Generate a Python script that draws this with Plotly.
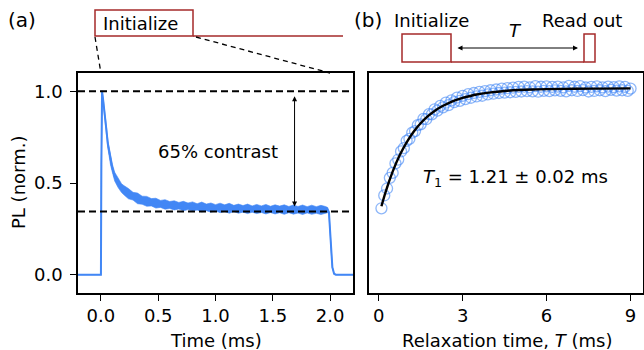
import plotly.graph_objects as go

# ---------------- data ----------------
pl_time = [-0.2, 0.0, 0.004, 0.01, 0.02, 0.032, 0.046, 0.061, 0.084, 0.10, 0.12, 0.15, 0.18,
           0.20, 0.24, 0.28, 0.32, 0.36, 0.40, 0.44, 0.48, 0.52, 0.56, 0.60, 0.64, 0.68, 0.72,
           0.76, 0.80, 0.84, 0.88, 0.92, 0.96, 1.00, 1.04, 1.08, 1.12, 1.16, 1.20, 1.24, 1.28,
           1.32, 1.36, 1.40, 1.44, 1.48, 1.52, 1.56, 1.60, 1.64, 1.68, 1.72, 1.76, 1.80, 1.84,
           1.88, 1.92, 1.96, 1.98, 1.99, 2.0, 2.01, 2.02, 2.035, 2.05, 2.2]
pl_value = [0.0, 0.0, 0.6, 1.0, 0.95, 0.89, 0.80, 0.71, 0.62, 0.58, 0.535, 0.50, 0.472,
            0.461, 0.442, 0.428, 0.416, 0.406, 0.400, 0.395, 0.390, 0.386, 0.383, 0.380, 0.378,
            0.376, 0.374, 0.373, 0.372, 0.370, 0.369, 0.367, 0.366, 0.365, 0.364, 0.363, 0.362,
            0.361, 0.360, 0.359, 0.359, 0.358, 0.358, 0.357, 0.357, 0.356, 0.356, 0.356, 0.355,
            0.355, 0.355, 0.354, 0.354, 0.354, 0.354, 0.353, 0.353, 0.353, 0.352, 0.34, 0.25,
            0.12, 0.04, 0.005, 0.0, 0.0]
pl_spread = [0.0, 0.0, 0.0, 0.005, 0.01, 0.015, 0.018, 0.02, 0.022, 0.022, 0.024, 0.025, 0.024,
             0.025, 0.028, 0.021, 0.029, 0.022, 0.027, 0.020, 0.027, 0.019, 0.026, 0.019, 0.025,
             0.018, 0.026, 0.018, 0.025, 0.017, 0.027, 0.018, 0.025, 0.017, 0.026, 0.018, 0.027,
             0.017, 0.025, 0.018, 0.026, 0.017, 0.025, 0.018, 0.026, 0.017, 0.025, 0.018, 0.026,
             0.017, 0.025, 0.018, 0.026, 0.017, 0.025, 0.018, 0.025, 0.019, 0.014, 0.006, 0.0,
             0.0, 0.0, 0.0, 0.0, 0.0]

t1_time = [0.1, 0.2, 0.3, 0.4, 0.5, 0.6, 0.7, 0.8, 0.9, 1.0,
           1.1, 1.2, 1.3, 1.4, 1.5, 1.6, 1.7, 1.8, 1.9, 2.0,
           2.1, 2.2, 2.3, 2.4, 2.5, 2.6, 2.7, 2.8, 2.9, 3.0,
           3.1, 3.2, 3.3, 3.4, 3.5, 3.6, 3.7, 3.8, 3.9, 4.0,
           4.1, 4.2, 4.3, 4.4, 4.5, 4.6, 4.7, 4.8, 4.9, 5.0,
           5.1, 5.2, 5.3, 5.4, 5.5, 5.6, 5.7, 5.8, 5.9, 6.0,
           6.1, 6.2, 6.3, 6.4, 6.5, 6.6, 6.7, 6.8, 6.9, 7.0,
           7.1, 7.2, 7.3, 7.4, 7.5, 7.6, 7.7, 7.8, 7.9, 8.0,
           8.1, 8.2, 8.3, 8.4, 8.5, 8.6, 8.7, 8.8, 8.9, 9.0]
t1_signal = [0.362, 0.432, 0.470, 0.528, 0.555, 0.607, 0.628, 0.672, 0.690, 0.730,
             0.741, 0.775, 0.783, 0.816, 0.820, 0.850, 0.848, 0.876, 0.874, 0.902,
             0.895, 0.921, 0.913, 0.938, 0.925, 0.951, 0.941, 0.966, 0.948, 0.975,
             0.958, 0.985, 0.965, 0.991, 0.972, 0.997, 0.976, 1.001, 0.983, 1.006,
             0.987, 1.010, 0.991, 1.015, 0.993, 1.018, 0.995, 1.020, 0.997, 1.024,
             0.999, 1.026, 1.001, 1.022, 1.000, 1.028, 0.998, 1.025, 1.003, 1.027,
             1.001, 1.024, 1.005, 1.026, 1.003, 1.022, 1.000, 1.030, 1.006, 1.025,
             1.002, 1.028, 1.007, 1.021, 0.999, 1.024, 1.002, 1.027, 1.006, 1.022,
             1.001, 1.026, 1.008, 1.023, 1.004, 1.027, 1.006, 1.024, 1.003, 1.015]

fit_time = [0.1, 0.25, 0.5, 0.75, 1.0, 1.25, 1.5, 1.75, 2.0, 2.25, 2.5, 2.75, 3.0,
            3.5, 4.0, 4.5, 5.0, 5.5, 6.0, 7.0, 8.0, 9.0]
fit_value = [0.373, 0.452, 0.562, 0.651, 0.722, 0.780, 0.826, 0.863, 0.893, 0.917, 0.936,
             0.952, 0.964, 0.983, 0.994, 1.002, 1.007, 1.010, 1.012, 1.014, 1.015, 1.016]

contrast_low = 0.345
contrast_high = 1.0

x1_ticks = [0.0, 0.5, 1.0, 1.5, 2.0]
x1_labels = ["0.0", "0.5", "1.0", "1.5", "2.0"]
y_ticks = [0.0, 0.5, 1.0]
y_labels = ["0.0", "0.5", "1.0"]
x2_ticks = [0, 3, 6, 9]
x2_labels = ["0", "3", "6", "9"]

# ---------------- layout helpers ----------------
W, H = 644, 350
X1_RANGE = [-0.2, 2.2]
X2_RANGE = [-0.345, 9.445]
Y_RANGE = [-0.1, 1.1]
X1_DOM = [78 / W, 353 / W]
X2_DOM = [369 / W, 643 / W]
Y_DOM = [1 - 293 / H, 1 - 73 / H]

BLUE = "#4287f5"
BROWN = "#a52a2a"
FONT = "DejaVu Sans"


def px(p):
    return p / W


def py(p):
    return 1 - p / H


def x1_paper(v):
    return X1_DOM[0] + (v - X1_RANGE[0]) / (X1_RANGE[1] - X1_RANGE[0]) * (X1_DOM[1] - X1_DOM[0])


fig = go.Figure()

# noisy PL band
upper = [v + s for v, s in zip(pl_value, pl_spread)]
lower = [v - s for v, s in zip(pl_value, pl_spread)]
fig.add_trace(go.Scatter(x=pl_time + pl_time[::-1], y=upper + lower[::-1], fill="toself",
                         fillcolor=BLUE, line=dict(color=BLUE, width=0.6), mode="lines",
                         xaxis="x", yaxis="y", hoverinfo="skip", showlegend=False))
fig.add_trace(go.Scatter(x=pl_time, y=pl_value, mode="lines", line=dict(color=BLUE, width=2),
                         xaxis="x", yaxis="y", showlegend=False))

# T1 data and fit
fig.add_trace(go.Scatter(x=t1_time, y=t1_signal, mode="markers",
                         marker=dict(symbol="circle-open", size=11, color="rgba(66,135,245,0.6)",
                                     line=dict(width=1.3)),
                         xaxis="x2", yaxis="y2", showlegend=False))
fig.add_trace(go.Scatter(x=fit_time, y=fit_value, mode="lines", line=dict(color="black", width=2.4,
                         shape="spline"), xaxis="x2", yaxis="y2", showlegend=False))

axis_common = dict(showline=True, linecolor="black", linewidth=1.5, mirror=True, showgrid=False,
                   zeroline=False, ticks="outside", ticklen=6, tickwidth=1.3, tickcolor="black",
                   tickfont=dict(family=FONT, size=18, color="black"))

shapes = []
# horizontal dashed contrast lines
for lvl in [contrast_high, contrast_low]:
    shapes.append(dict(type="line", xref="x", yref="y", x0=X1_RANGE[0], x1=X1_RANGE[1], y0=lvl, y1=lvl,
                       line=dict(color="black", width=2, dash="7px,4px")))

# left schematic
shapes.append(dict(type="rect", xref="paper", yref="paper", x0=px(95), x1=px(193), y0=py(36), y1=py(10),
                   line=dict(color=BROWN, width=1.5)))
shapes.append(dict(type="line", xref="paper", yref="paper", x0=px(193), x1=px(343), y0=py(36), y1=py(36),
                   line=dict(color=BROWN, width=1.5)))
shapes.append(dict(type="line", xref="paper", yref="paper", x0=px(95), x1=x1_paper(0.0), y0=py(37), y1=Y_DOM[1],
                   line=dict(color="black", width=1.3, dash="5px,4px")))
shapes.append(dict(type="line", xref="paper", yref="paper", x0=px(196), x1=x1_paper(2.0), y0=py(37), y1=Y_DOM[1],
                   line=dict(color="black", width=1.3, dash="5px,4px")))

# right schematic
shapes.append(dict(type="rect", xref="paper", yref="paper", x0=px(402), x1=px(451), y0=py(62), y1=py(34),
                   line=dict(color=BROWN, width=1.5)))
shapes.append(dict(type="line", xref="paper", yref="paper", x0=px(451), x1=px(584), y0=py(62), y1=py(62),
                   line=dict(color=BROWN, width=1.5)))
shapes.append(dict(type="rect", xref="paper", yref="paper", x0=px(584), x1=px(595), y0=py(62), y1=py(34),
                   line=dict(color=BROWN, width=1.5)))

txt = dict(family=FONT, size=18, color="black")
C = dict(xanchor="center", yanchor="middle", showarrow=False)
annotations = [
    dict(text="(a)", x=px(22), y=py(20), xref="paper", yref="paper",
         font=dict(family=FONT, size=20, color="black"), **C),
    dict(text="(b)", x=px(368), y=py(20), xref="paper", yref="paper",
         font=dict(family=FONT, size=20, color="black"), **C),
    dict(text="Initialize", x=px(140), y=py(23), xref="paper", yref="paper", font=txt, **C),
    dict(text="Initialize", x=px(431), y=py(20), xref="paper", yref="paper", font=txt, **C),
    dict(text="Read out", x=px(582), y=py(20), xref="paper", yref="paper", font=txt, **C),
    dict(text="<i>T</i>", x=px(515), y=py(31), xref="paper", yref="paper", font=txt, **C),
    # double arrow T
    dict(text="", x=px(578), y=py(48), ax=456 - 578, ay=0, xref="paper", yref="paper",
         axref="pixel", ayref="pixel", showarrow=True, arrowside="end+start", arrowhead=2,
         arrowsize=1, arrowwidth=1, arrowcolor="black"),
    # contrast arrow
    dict(text="", x=1.69, y=0.372, ax=1.69, ay=0.982, xref="x", yref="y", axref="x", ayref="y",
         showarrow=True, arrowside="end+start", arrowhead=2, arrowsize=1, arrowwidth=1,
         arrowcolor="black"),
    dict(text="65% contrast", x=1.02, y=0.67, xref="x", yref="y", font=txt, **C),
    dict(text="<i>T</i><sub>1</sub> = 1.21 ± 0.02 ms", x=4.9, y=0.53, xref="x2", yref="y2",
         font=txt, **C),
    # axis titles
    dict(text="Time (ms)", x=x1_paper(1.0), y=py(340), xref="paper", yref="paper", font=txt, **C),
    dict(text="Relaxation time, <i>T</i> (ms)", x=px(507), y=py(340), xref="paper", yref="paper",
         font=txt, **C),
    dict(text="PL (norm.)", x=px(18), y=py(183), xref="paper", yref="paper",
         textangle=-90, font=txt, **C),
]

fig.update_layout(
    width=W, height=H, margin=dict(l=0, r=0, t=0, b=0),
    paper_bgcolor="white", plot_bgcolor="white",
    font=dict(family=FONT, size=18, color="black"),
    xaxis=dict(domain=X1_DOM, range=X1_RANGE, tickvals=x1_ticks, ticktext=x1_labels, anchor="y",
               **axis_common),
    yaxis=dict(domain=Y_DOM, range=Y_RANGE, tickvals=y_ticks, ticktext=y_labels, anchor="x",
               ticklabelstandoff=4, **axis_common),
    xaxis2=dict(domain=X2_DOM, range=X2_RANGE, tickvals=x2_ticks, ticktext=x2_labels, anchor="y2",
                **axis_common),
    yaxis2=dict(domain=Y_DOM, range=Y_RANGE, anchor="x2", matches="y", showline=True, linecolor="black",
                linewidth=1.5, mirror=True, showgrid=False, zeroline=False, ticks="",
                showticklabels=False),
    shapes=shapes, annotations=annotations, showlegend=False,
)

fig.write_html("out.html", config={"displayModeBar": False},
               post_script="document.body.style.margin='0px';document.body.style.overflow='hidden';")
